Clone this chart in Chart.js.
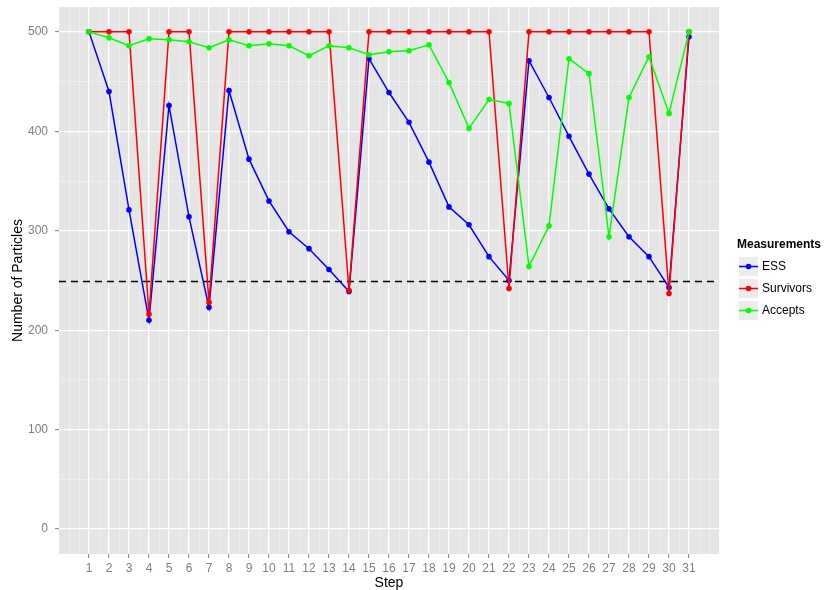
<!DOCTYPE html>
<html>
<head>
<meta charset="utf-8">
<script src="https://cdn.jsdelivr.net/npm/chart.js@4/dist/chart.umd.min.js"></script>
<style>
  html, body { margin: 0; padding: 0; background: #fff; }
  #wrap { width: 827px; height: 590px; position: relative; }
</style>
</head>
<body>
<div id="wrap"><canvas id="c" width="827" height="590"></canvas></div>
<script>
// Particle counts per resampling step
const steps = [1, 2, 3, 4, 5, 6, 7, 8, 9, 10, 11, 12, 13, 14, 15, 16, 17, 18, 19, 20, 21, 22, 23, 24, 25, 26, 27, 28, 29, 30, 31];
const ess = [500, 440, 321, 210, 426, 314, 223, 441, 372, 330, 299, 282, 261, 239, 473, 439, 409, 369, 324, 306, 274, 250, 471, 434, 395, 357, 322, 294, 274, 243, 495];
const survivors = [500, 500, 500, 216, 500, 500, 228, 500, 500, 500, 500, 500, 500, 240, 500, 500, 500, 500, 500, 500, 500, 242, 500, 500, 500, 500, 500, 500, 500, 237, 500];
const accepts = [500, 494, 486, 493, 492, 490, 484, 492, 486, 488, 486, 476, 486, 484, 477, 480, 481, 487, 449, 403, 432, 428, 264, 305, 473, 458, 294, 434, 475, 418, 500];
const threshold = 250;

const seriesNames = ['ESS', 'Survivors', 'Accepts'];
const seriesValues = [ess, survivors, accepts];
const seriesColors = ['#0000ff', '#ff0000', '#00ff00'];
const yTickValues = [0, 100, 200, 300, 400, 500];
const xTickValues = steps;

const FONT = '"Liberation Sans", Arial, Helvetica, sans-serif';
const PANEL_BG = '#e5e5e5';
const MINOR = '#f2f2f2';
const TICK_GREY = '#7f7f7f';

// plot panel edges inside the 827x590 canvas
const PANEL = { left: 59, right: 719, top: 7, bottom: 554 };

const isMajorX = v => xTickValues.includes(v);
const isMajorY = v => yTickValues.includes(v);

const datasets = seriesNames.map((name, i) => ({
  label: name,
  data: steps.map((s, j) => ({ x: s, y: seriesValues[i][j] })),
  borderColor: seriesColors[i],
  backgroundColor: seriesColors[i],
  pointBackgroundColor: seriesColors[i],
  pointBorderColor: seriesColors[i],
  borderWidth: 1.5,
  pointRadius: 2.8,
  pointBorderWidth: 0,
  pointHoverRadius: 2.8,
  tension: 0,
  fill: false,
  order: seriesNames.length - i
}));

// grey panel behind the grid
const panelBackground = {
  id: 'panelBackground',
  beforeDraw(chart) {
    const { ctx, chartArea: a } = chart;
    ctx.save();
    ctx.fillStyle = '#ffffff';
    ctx.fillRect(0, 0, chart.width, chart.height);
    ctx.fillStyle = PANEL_BG;
    ctx.fillRect(a.left, a.top, a.right - a.left, a.bottom - a.top);
    ctx.restore();
  }
};

// dashed horizontal reference line
const thresholdLine = {
  id: 'thresholdLine',
  beforeDatasetsDraw(chart) {
    const { ctx, chartArea: a, scales } = chart;
    const y = Math.round(scales.y.getPixelForValue(threshold)) + 0.5;
    ctx.save();
    ctx.strokeStyle = '#000';
    ctx.lineWidth = 1.3;
    ctx.setLineDash([7, 5]);
    ctx.beginPath();
    ctx.moveTo(a.left, y);
    ctx.lineTo(a.right, y);
    ctx.stroke();
    ctx.restore();
  }
};

// legend with grey key boxes on the right
const sideLegend = {
  id: 'sideLegend',
  afterDraw(chart) {
    const { ctx } = chart;
    const x0 = 738, titleY = 245, rowTop = 256, rowH = 22, key = 21;
    ctx.save();
    ctx.fillStyle = '#000';
    ctx.font = 'bold 12px ' + FONT;
    ctx.textAlign = 'left';
    ctx.textBaseline = 'middle';
    ctx.fillText('Measurements', x0 - 1, titleY);
    seriesNames.forEach((name, i) => {
      const top = rowTop + i * rowH;
      const cy = top + key / 2;
      ctx.fillStyle = '#ececec';
      ctx.fillRect(x0, top, key, key);
      ctx.strokeStyle = '#ffffff';
      ctx.lineWidth = 1;
      ctx.strokeRect(x0 + 0.5, top + 0.5, key - 1, key - 1);
      ctx.strokeStyle = seriesColors[i];
      ctx.lineWidth = 1.5;
      ctx.beginPath();
      ctx.moveTo(x0 + 1, cy);
      ctx.lineTo(x0 + key - 1, cy);
      ctx.stroke();
      ctx.fillStyle = seriesColors[i];
      ctx.beginPath();
      ctx.arc(x0 + key / 2, cy, 2.8, 0, Math.PI * 2);
      ctx.fill();
      ctx.fillStyle = '#000';
      ctx.font = '12px ' + FONT;
      ctx.fillText(name, x0 + key + 3, cy + 0.5);
    });
    ctx.restore();
  }
};

// pin the plot panel to fixed edges once the layout is computed
const fixedPanel = {
  id: 'fixedPanel',
  afterLayout(chart) {
    const a = chart.chartArea;
    a.left = PANEL.left; a.right = PANEL.right;
    a.top = PANEL.top; a.bottom = PANEL.bottom;
    a.width = PANEL.right - PANEL.left;
    a.height = PANEL.bottom - PANEL.top;
    const { x, y } = chart.scales;
    x.left = PANEL.left; x.right = PANEL.right; x.width = a.width;
    x.top = PANEL.bottom; x.bottom = chart.height; x.height = chart.height - PANEL.bottom;
    y.top = PANEL.top; y.bottom = PANEL.bottom; y.height = a.height;
    y.left = 0; y.right = PANEL.left; y.width = PANEL.left;
    x.configure();
    y.configure();
  }
};

new Chart(document.getElementById('c').getContext('2d'), {
  type: 'line',
  data: { datasets },
  plugins: [fixedPanel, panelBackground, thresholdLine, sideLegend],
  options: {
    responsive: false,
    animation: false,
    devicePixelRatio: 1,
    layout: { padding: { left: 0, right: 108, top: 0, bottom: 0 } },
    plugins: { legend: { display: false }, tooltip: { enabled: false } },
    scales: {
      x: {
        type: 'linear',
        min: -0.5,
        max: 32.5,
        afterBuildTicks: s => {
          const t = [];
          for (let v = 0; v <= 32; v += 0.5) t.push({ value: v });
          s.ticks = t;
        },
        afterFit: s => { s.height = 36; },
        border: { display: false },
        grid: {
          color: c => isMajorX(c.tick.value) ? '#ffffff' : MINOR,
          lineWidth: c => isMajorX(c.tick.value) ? 1.3 : 0.7,
          drawTicks: true,
          tickLength: 4,
          tickWidth: 1,
          tickColor: c => isMajorX(c.tick.value) ? TICK_GREY : 'rgba(0,0,0,0)'
        },
        ticks: {
          autoSkip: false,
          maxRotation: 0,
          minRotation: 0,
          padding: 3,
          color: TICK_GREY,
          font: { family: FONT, size: 12 },
          callback: v => isMajorX(v) ? String(v) : ''
        },
        title: {
          display: true,
          text: 'Step',
          color: '#000',
          font: { family: FONT, size: 14 },
          padding: { top: 0, bottom: -2 }
        }
      },
      y: {
        type: 'linear',
        min: -25,
        max: 525,
        afterBuildTicks: s => {
          const t = [];
          for (let v = 0; v <= 500; v += 50) t.push({ value: v });
          s.ticks = t;
        },
        afterFit: s => { s.width = 59; },
        border: { display: false },
        grid: {
          color: c => isMajorY(c.tick.value) ? '#ffffff' : MINOR,
          lineWidth: c => isMajorY(c.tick.value) ? 1.3 : 0.7,
          drawTicks: true,
          tickLength: 4,
          tickWidth: 1,
          tickColor: c => isMajorY(c.tick.value) ? TICK_GREY : 'rgba(0,0,0,0)'
        },
        ticks: {
          autoSkip: false,
          padding: 7,
          color: TICK_GREY,
          font: { family: FONT, size: 12 },
          callback: v => isMajorY(v) ? String(v) : ''
        },
        title: {
          display: true,
          text: 'Number of Particles',
          color: '#000',
          font: { family: FONT, size: 14 },
          padding: { top: 10, bottom: 0 }
        }
      }
    }
  }
});
</script>
</body>
</html>
